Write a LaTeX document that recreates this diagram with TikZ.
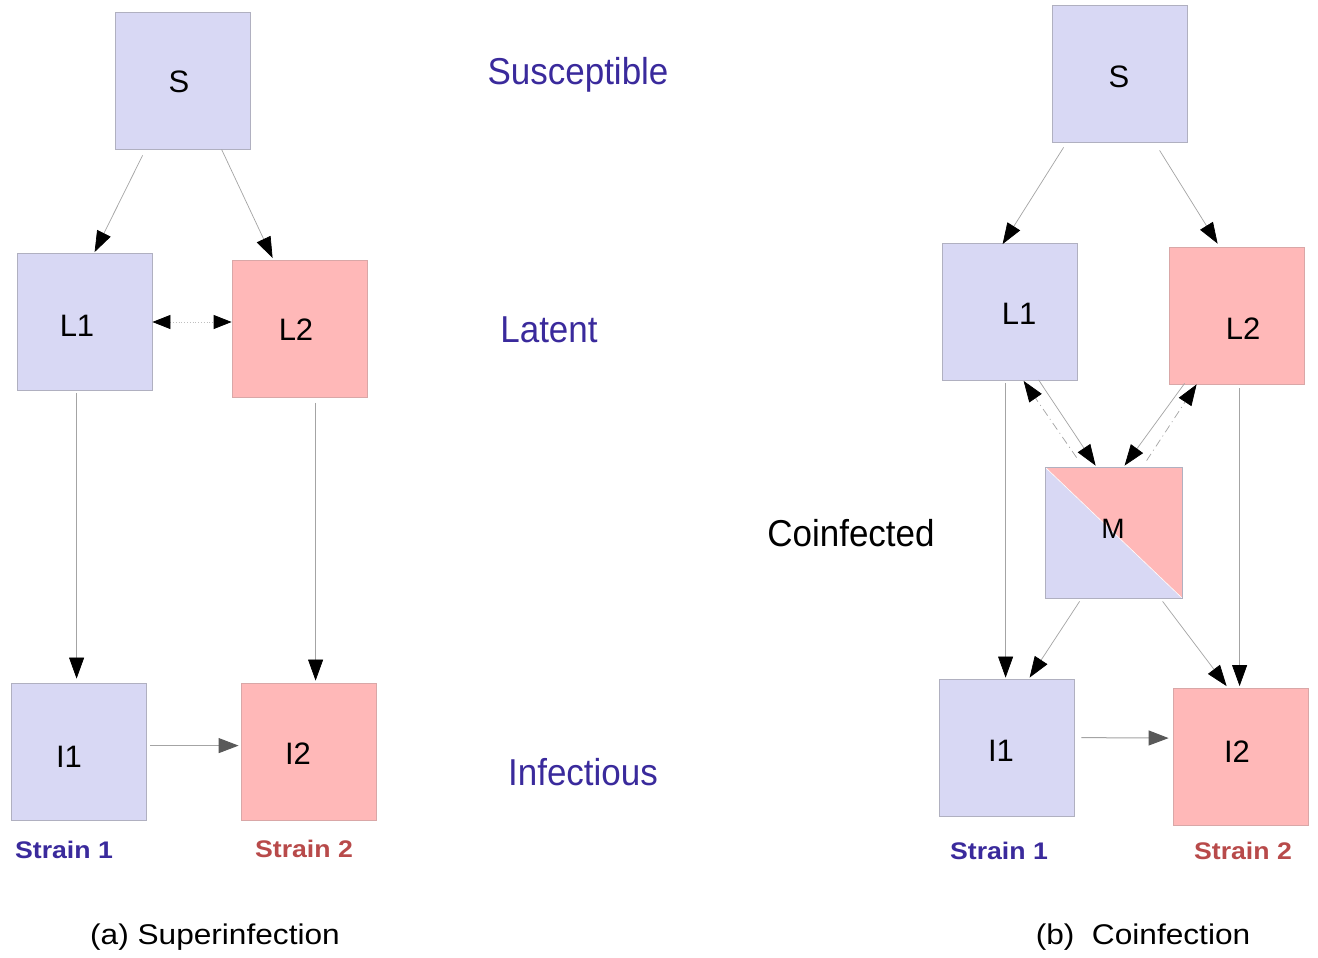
\documentclass[tikz,border=0pt]{standalone}
\usepackage{fontspec}
\usepackage{graphicx}
\setmainfont{Liberation Sans}
\usetikzlibrary{arrows.meta}
\definecolor{lav}{HTML}{D8D8F4}
\definecolor{pnk}{HTML}{FFB8B8}
\definecolor{indig}{HTML}{3A2A9C}
\definecolor{strred}{HTML}{B84A4A}
\definecolor{edgegr}{HTML}{A4A4A4}
\definecolor{boxgr}{HTML}{B0B0C0}
\newcommand{\stagetext}[1]{\scalebox{1}[1.07]{#1}}
\newcommand{\wider}[1]{\scalebox{1.11}[1]{#1}}
\begin{document}
\begin{tikzpicture}[x=1pt,y=-1pt,
  box/.style={draw=boxgr, line width=0.8pt, minimum width=135pt, minimum height=137pt, inner sep=0pt},
  bl/.style={box, fill=lav},
  rd/.style={box, fill=pnk, draw=pnk!70!gray},
  conn/.style={draw=edgegr, line width=0.7pt, -{Triangle[length=21pt,width=15pt,color=black]}},
  back/.style={draw=edgegr, line width=0.7pt, dash pattern=on 8pt off 4pt on 1pt off 4pt, -{Triangle[length=21pt,width=15pt,color=black]}},
  flat/.style={draw=edgegr, line width=1pt, -{Triangle[length=20pt,width=15pt,color=black!65]}},
  dotb/.style={draw=gray!50, line width=0.8pt, dotted, {Triangle[length=18pt,width=14pt,color=black]}-{Triangle[length=18pt,width=14pt,color=black]}},
  stage/.style={font=\fontsize{35}{40}\selectfont, text=indig},
  s1/.style={font=\fontsize{24}{28}\selectfont\bfseries, text=indig},
  s2/.style={font=\fontsize{24}{28}\selectfont\bfseries, text=strred},
  captxt/.style={font=\fontsize{28.5}{34}\selectfont},
  lt/.style={font=\fontsize{31}{34}\selectfont}
]
\useasboundingbox (0,0) rectangle (1318,958);
\fill[white] (0,0) rectangle (1318,958);

% ---------- (a) Superinfection ----------
\node[bl] (aS)  at (182.5,80.5) {};
\node[bl] (aL1) at (84.5,322) {};
\node[rd] (aL2) at (299.5,329) {};
\node[bl] (aI1) at (78.5,751.5) {};
\node[rd] (aI2) at (308.5,751.5) {};

\node[lt] (aSt)  at (179,82) {S};
\node[lt] (aL1t) at (77,326) {L1};
\node[lt] (aL2t) at (296,330) {L2};
\node[lt] (aI1t) at (69,757) {I1};
\node[lt] (aI2t) at (298,754) {I2};

\draw[conn] ([shift={(28,6)}]aS.south west) -- ([shift={(78,-1)}]aL1.north west);
\draw[conn] ([shift={(107,0)}]aS.south west) -- ([shift={(41,-2)}]aL2.north west);
\draw[dotb] (aL1.east) -- (aL1.east -| aL2.west);
\draw[conn] ([shift={(60,2)}]aL1.south west) -- ([shift={(66,-4)}]aI1.north west);
\draw[conn] ([shift={(84,5)}]aL2.south west) -- ([shift={(75,-2)}]aI2.north west);
\draw[flat] ([shift={(4,63)}]aI1.north east) -- ([shift={(-2,63)}]aI2.north west);

\node[stage] (sus) at (578,75) {\stagetext{Susceptible}};
\node[stage] (lat) at (549,330) {\stagetext{Latent}};
\node[stage] (inf) at (583,772) {\stagetext{Infectious}};

\node[s1] (aS1) at (64,850) {\wider{Strain 1}};
\node[s2] (aS2) at (304,849) {\wider{Strain 2}};
\node[captxt] (capa) at (215,937) {\wider{(a) Superinfection}};

% ---------- (b) Coinfection ----------
\node[bl] (bS)  at (1119.5,73.5) {};
\node[bl] (bL1) at (1009.5,312) {};
\node[rd] (bL2) at (1236.5,315.5) {};
\node[box, draw=boxgr, minimum width=137pt, minimum height=131pt,
      path picture={
        \fill[lav] (path picture bounding box.north west) rectangle (path picture bounding box.south east);
        \fill[pnk] (path picture bounding box.north west) -- (path picture bounding box.north east) -- (path picture bounding box.south east) -- cycle;
        \draw[white, line width=0.6pt] (path picture bounding box.north west) -- (path picture bounding box.south east);
      }] (bM) at (1113.5,532.5) {};
\node[bl] (bI1) at (1006.5,747.5) {};
\node[rd] (bI2) at (1240.5,757) {};

\node[lt] (bSt)  at (1119,77) {S};
\node[lt] (bL1t) at (1019,314) {L1};
\node[lt] (bL2t) at (1243,329) {L2};
\node[lt, font=\fontsize{28}{30}\selectfont] (bMt)  at (1113,529) {M};
\node[lt] (bI1t) at (1001,751) {I1};
\node[lt] (bI2t) at (1237,752) {I2};

\draw[conn] ([shift={(12,5)}]bS.south west) -- ([shift={(61,1)}]bL1.north west);
\draw[conn] ([shift={(108,8)}]bS.south west) -- ([shift={(49,-3)}]bL2.north west);
\draw[conn] ([shift={(97,-1)}]bL1.south west) -- ([shift={(51,-1)}]bM.north west);
\draw[conn] ([shift={(16,-1)}]bL2.south west) -- ([shift={(80,-1)}]bM.north west);
\draw[back] ([shift={(32,-9)}]bM.north west) -- ([shift={(82,0)}]bL1.south west);
\draw[back] ([shift={(102,-6)}]bM.north west) -- ([shift={(28,0)}]bL2.south west);
\draw[conn] ([shift={(64,2)}]bL1.south west) -- ([shift={(67,-1)}]bI1.north west);
\draw[conn] ([shift={(71,4)}]bL2.south west) -- ([shift={(67,-2)}]bI2.north west);
\draw[conn] ([shift={(35,3)}]bM.south west) -- ([shift={(91,-1)}]bI1.north west);
\draw[conn] ([shift={(118,3)}]bM.south west) -- ([shift={(54,-2)}]bI2.north west);
\draw[flat] ([shift={(7,59)}]bI1.north east) -- ([shift={(-4,50)}]bI2.north west);

\node[font=\fontsize{35}{40}\selectfont] (coi) at (851,533) {\stagetext{Coinfected}};
\node[s1] (bS1) at (999,851) {\wider{Strain 1}};
\node[s2] (bS2) at (1243,851) {\wider{Strain 2}};
\node[captxt] (capb) at (1143,937) {\wider{(b)\ \ Coinfection}};
\end{tikzpicture}
\end{document}
